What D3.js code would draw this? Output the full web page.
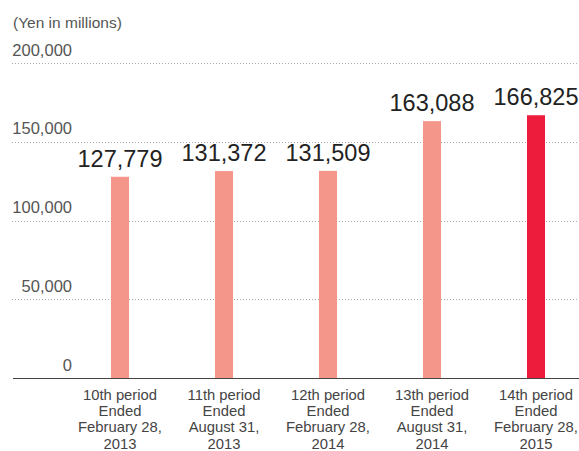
<!DOCTYPE html>
<html>
<head>
<meta charset="utf-8">
<script src="https://cdn.jsdelivr.net/npm/d3@7"></script>
<style>
  body { margin: 0; background: #fff; }
  svg text { font-family: "Liberation Sans", Arial, Helvetica, sans-serif; }
</style>
</head>
<body>
<div id="chart"></div>
<script>
// Data
const periods = [
    ["10th period", "Ended", "February 28,", "2013"],
    ["11th period", "Ended", "August 31,", "2013"],
    ["12th period", "Ended", "February 28,", "2014"],
    ["13th period", "Ended", "August 31,", "2014"],
    ["14th period", "Ended", "February 28,", "2015"]
];
const values = [127779, 131372, 131509, 163088, 166825];
const yTicks = [0, 50000, 100000, 150000, 200000];
const unitLabel = "(Yen in millions)";

const width = 579, height = 451;
const baseY = 378, topY = 63;

const svg = d3.select("#chart").append("svg")
    .attr("width", width)
    .attr("height", height);

const xScale = d3.scaleBand()
    .domain(d3.range(values.length))
    .range([68, 588])
    .paddingInner(86 / 104)
    .paddingOuter(43 / 104);

const yScale = d3.scaleLinear()
    .domain([0, 200000])
    .range([baseY, topY]);

// unit label
svg.append("text")
    .attr("x", 13)
    .attr("y", 28)
    .attr("font-size", 15.5)
    .attr("fill", "#555")
    .text(unitLabel);

// tick labels
const yAxis = d3.axisLeft(yScale)
    .tickValues(yTicks)
    .tickFormat(d3.format(","))
    .tickSize(0)
    .tickPadding(0);

const yAxisG = svg.append("g")
    .attr("transform", "translate(72,0)")
    .call(yAxis);
yAxisG.select(".domain").remove();
yAxisG.selectAll("text")
    .attr("font-size", 16.5)
    .attr("fill", "#555")
    .attr("dy", 0)
    .attr("y", -8)
    .style("font-family", "'Liberation Sans', Arial, sans-serif");

// dotted gridlines
svg.append("g")
    .selectAll("line")
    .data(yTicks.filter(d => d > 0))
    .join("line")
    .attr("x1", 12)
    .attr("x2", width)
    .attr("y1", d => Math.round(yScale(d)) + 0.5)
    .attr("y2", d => Math.round(yScale(d)) + 0.5)
    .attr("stroke", "#aaa")
    .attr("stroke-width", 1)
    .attr("stroke-dasharray", "1,2");

// bars
svg.append("g")
    .selectAll("rect")
    .data(values)
    .join("rect")
    .attr("x", (d, i) => xScale(i))
    .attr("width", xScale.bandwidth())
    .attr("y", d => yScale(d))
    .attr("height", d => baseY - yScale(d))
    .attr("fill", (d, i) => i === values.length - 1 ? "#ed1b3c" : "#f5968a");

// value labels
svg.append("g")
    .selectAll("text")
    .data(values)
    .join("text")
    .attr("x", (d, i) => xScale(i) + xScale.bandwidth() / 2)
    .attr("y", d => yScale(d) - 10)
    .attr("text-anchor", "middle")
    .attr("font-size", 23.5)
    .attr("fill", "#222")
    .text(d => d3.format(",")(d));

// baseline
svg.append("line")
    .attr("x1", 13)
    .attr("x2", width)
    .attr("y1", baseY + 0.5)
    .attr("y2", baseY + 0.5)
    .attr("stroke", "#444")
    .attr("stroke-width", 1.2);

// category labels
const cat = svg.append("g")
    .selectAll("text")
    .data(periods)
    .join("text")
    .attr("x", (d, i) => xScale(i) + xScale.bandwidth() / 2)
    .attr("y", 400)
    .attr("text-anchor", "middle")
    .attr("font-size", 14.8)
    .attr("fill", "#444");

cat.selectAll("tspan")
    .data(d => d)
    .join("tspan")
    .attr("x", function() { return d3.select(this.parentNode).attr("x"); })
    .attr("dy", (d, i) => i === 0 ? 0 : 16.2)
    .text(d => d);
</script>
</body>
</html>
